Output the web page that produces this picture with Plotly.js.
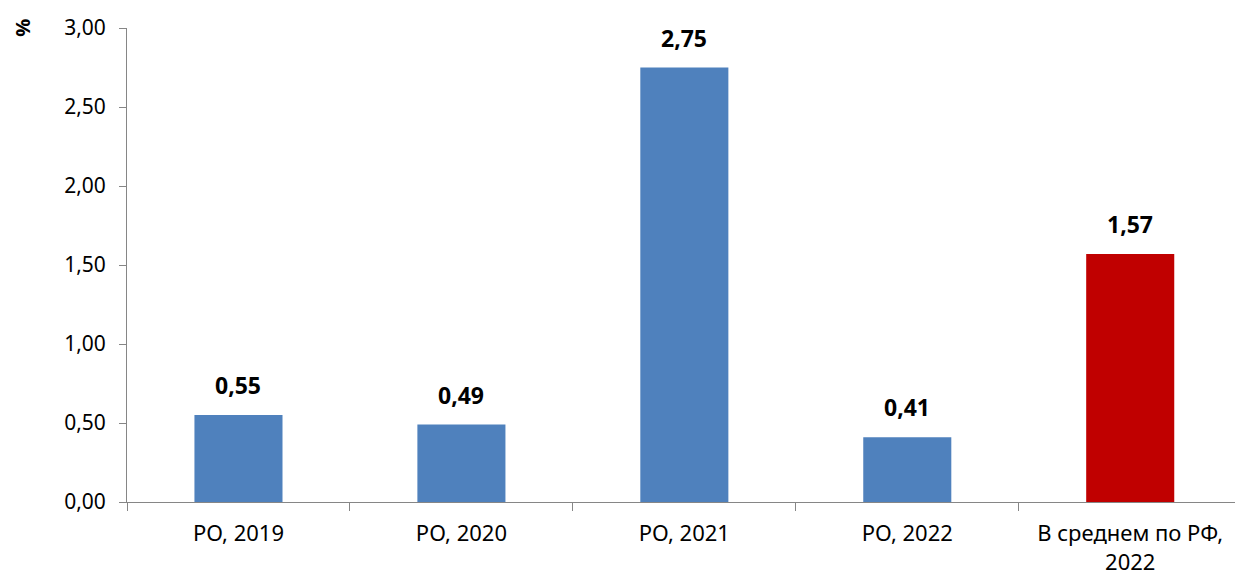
<!DOCTYPE html>
<html>
<head>
<meta charset="utf-8">
<script src="https://cdn.plot.ly/plotly-3.0.1.min.js"></script>
<style>html,body{margin:0;padding:0;background:#fff;}#chart{width:1235px;height:578px;}</style>
</head>
<body>
<div id="chart"></div>
<script>
var categories = ["РО, 2019", "РО, 2020", "РО, 2021", "РО, 2022", "В среднем по РФ,<br>2022"];
var values = [0.55, 0.49, 2.75, 0.41, 1.57];
var barColors = ["#4F81BD", "#4F81BD", "#4F81BD", "#4F81BD", "#C00000"];
var yTickVals = [0, 0.5, 1, 1.5, 2, 2.5, 3];

var trace = {
  type: "bar",
  x: categories,
  y: values,
  width: 0.395,
  marker: {color: barColors},
  hoverinfo: "none"
};

var labelAnnotations = categories.map(function (c, i) {
  return {
    x: c, y: values[i], xref: "x", yref: "y",
    text: values[i].toFixed(2).replace(".", ","),
    showarrow: false, xanchor: "center", yanchor: "bottom", yshift: 12,
    font: {family: "Noto Sans", size: 23, color: "#000", weight: "bold"}
  };
});

var axisColor = "#868686";
var layout = {
  width: 1235, height: 578,
  margin: {l: 127, r: 0, t: 28, b: 76, pad: 0},
  paper_bgcolor: "#fff", plot_bgcolor: "#fff",
  separators: ", ",
  showlegend: false,
  font: {family: "Noto Sans", size: 20, color: "#000"},
  xaxis: {
    type: "category",
    range: [-0.5, 4.47],
    showline: true, linecolor: axisColor, linewidth: 1,
    ticks: "outside", tickson: "boundaries", ticklen: 8, tickcolor: axisColor,
    ticklabelstandoff: 12,
    showgrid: false, zeroline: false,
    tickfont: {family: "Noto Sans", size: 22, color: "#000"},
    fixedrange: true
  },
  yaxis: {
    range: [0, 3],
    tickvals: yTickVals,
    tickformat: ".2f",
    showline: true, linecolor: axisColor, linewidth: 1,
    ticks: "outside", ticklen: 7, tickcolor: axisColor,
    ticklabelstandoff: 9,
    showgrid: false, zeroline: false,
    tickfont: {family: "Noto Sans", size: 21, color: "#000"},
    fixedrange: true
  },
  annotations: labelAnnotations.concat([{
    text: "%", xref: "paper", yref: "paper", x: -0.095, y: 1.0,
    xanchor: "center", yanchor: "middle", showarrow: false, textangle: -90,
    font: {family: "Noto Sans", size: 20, color: "#000", weight: "bold"}
  }])
};

Plotly.newPlot("chart", [trace], layout, {displayModeBar: false, staticPlot: true});
</script>
</body>
</html>
